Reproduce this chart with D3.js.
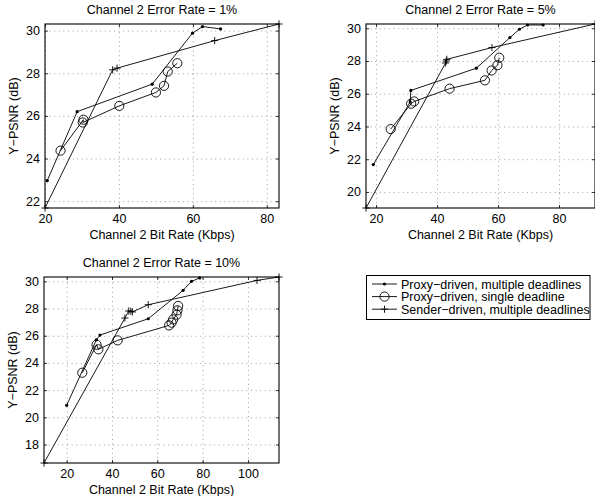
<!DOCTYPE html>
<html>
<head>
<meta charset="utf-8">
<script src="https://cdn.jsdelivr.net/npm/d3@7"></script>
<style>
  body { margin: 0; background: #fff; }
  svg { display: block; font-family: "Liberation Sans", Arial, Helvetica, sans-serif; }
  .grid line { stroke: #000; stroke-opacity: 0.55; stroke-width: 0.7; stroke-dasharray: 1,3.6; }
  .grid .domain { display: none; }
</style>
</head>
<body>
<svg id="chart" width="595" height="496"></svg>
<script>
// [bit rate (Kbps), Y-PSNR (dB)]
// channel 2 error rate = 1%
let proxyMulti1 = [[20.6, 22.96], [28.7, 26.2], [49.0, 27.49], [59.9, 29.88], [62.6, 30.19], [67.5, 30.08]];
let proxySingle1 = [[24.2, 24.37], [30.4, 25.82], [30.2, 25.69], [40.1, 26.47], [50.0, 27.1], [52.2, 27.41], [53.2, 28.08], [55.8, 28.47]];
let senderMulti1 = [[20.0, 21.68], [38.3, 28.16], [39.5, 28.24], [65.9, 29.53], [83.3, 30.31]];
// 5%
let proxyMulti2 = [[19.1, 21.67], [31.2, 25.5], [31.4, 26.2], [52.9, 27.56], [63.9, 29.43], [67.0, 29.94], [69.7, 30.2], [74.8, 30.2]];
let proxySingle2 = [[24.8, 23.84], [31.5, 25.39], [32.5, 25.53], [44.1, 26.31], [55.7, 26.82], [57.9, 27.42], [59.8, 27.74], [60.4, 28.2]];
let senderMulti2 = [[16.7, 19.02], [42.8, 27.88], [43.0, 28.0], [43.2, 28.1], [58.0, 28.82], [91.8, 30.26]];
// 10%
let proxyMulti3 = [[20.0, 20.88], [33.1, 25.7], [34.7, 26.05], [56.0, 27.25], [71.4, 29.34], [75.1, 30.0], [78.7, 30.25]];
let proxySingle3 = [[26.9, 23.28], [33.2, 25.34], [34.0, 25.0], [42.5, 25.66], [65.2, 26.76], [66.3, 26.96], [67.0, 27.2], [68.5, 27.55], [68.9, 27.87], [69.2, 28.19]];
let senderMulti3 = [[10.0, 16.64], [45.7, 27.3], [47.4, 27.82], [48.3, 27.8], [49.0, 27.75], [56.0, 28.28], [104.0, 30.07], [113.7, 30.32]];

let titles = ['Channel 2 Error Rate = 1%', 'Channel 2 Error Rate = 5%', 'Channel 2 Error Rate = 10%'];
let xTicks1 = [20, 40, 60, 80], yTicks1 = [22, 24, 26, 28, 30];
let xTicks2 = [20, 40, 60, 80], yTicks2 = [20, 22, 24, 26, 28, 30];
let xTicks3 = [20, 40, 60, 80, 100], yTicks3 = [18, 20, 22, 24, 26, 28, 30];
let legendNames = ['Proxy\u2212driven, multiple deadlines', 'Proxy\u2212driven, single deadline', 'Sender\u2212driven, multiple deadlines'];
let markerKinds = ['dot', 'circle', 'plus'];

var svg = d3.select('#chart');
var fontSize = '12.5px';

function drawMarker(g, kind, cx, cy) {
    if (kind == 'dot') {
        g.append('circle').attr('cx', cx).attr('cy', cy).attr('r', 1.6).attr('fill', '#000');
    } else if (kind == 'circle') {
        g.append('circle').attr('cx', cx).attr('cy', cy).attr('r', 4.6)
            .attr('fill', 'none').attr('stroke', '#000').attr('stroke-width', 0.9);
    } else {
        g.append('path').attr('d', 'M' + (cx - 3.6) + ',' + cy + 'H' + (cx + 3.6) + 'M' + cx + ',' + (cy - 3.6) + 'V' + (cy + 3.6))
            .attr('stroke', '#000').attr('stroke-width', 0.9);
    }
}

function drawPanel(box, title, xTicks, yTicks, series) {
    var all = [].concat.apply([], series);
    var x = d3.scaleLinear().domain(d3.extent(all, d => d[0])).range([box.left, box.right]);
    var y = d3.scaleLinear().domain(d3.extent(all, d => d[1])).range([box.bottom, box.top]);
    var w = box.right - box.left, h = box.bottom - box.top;
    var g = svg.append('g');

    // dotted grid
    g.append('g').attr('class', 'grid').attr('transform', 'translate(0,' + box.bottom + ')')
        .call(d3.axisBottom(x).tickValues(xTicks).tickSize(-h).tickFormat(''));
    g.append('g').attr('class', 'grid').attr('transform', 'translate(' + box.left + ',0)')
        .call(d3.axisLeft(y).tickValues(yTicks).tickSize(-w).tickFormat(''));

    // inner ticks on all four sides
    [[d3.axisBottom(x), 'translate(0,' + box.bottom + ')', xTicks], [d3.axisTop(x), 'translate(0,' + box.top + ')', xTicks],
     [d3.axisLeft(y), 'translate(' + box.left + ',0)', yTicks], [d3.axisRight(y), 'translate(' + box.right + ',0)', yTicks]]
        .forEach(function(a) {
            var ax = g.append('g').attr('transform', a[1]).call(a[0].tickValues(a[2]).tickSize(-3).tickFormat(''));
            ax.select('.domain').remove();
            ax.selectAll('.tick line').attr('stroke', '#000').attr('stroke-width', 0.8);
        });

    // tick labels
    var xa = g.append('g').attr('transform', 'translate(0,' + box.bottom + ')')
        .call(d3.axisBottom(x).tickValues(xTicks).tickSize(0).tickPadding(6));
    var ya = g.append('g').attr('transform', 'translate(' + box.left + ',0)')
        .call(d3.axisLeft(y).tickValues(yTicks).tickSize(0).tickPadding(5));
    [xa, ya].forEach(function(a) {
        a.select('.domain').remove();
        a.attr('font-size', fontSize).attr('font-family', null);
        a.selectAll('text').attr('fill', '#000');
    });

    g.append('rect').attr('x', box.left).attr('y', box.top).attr('width', w).attr('height', h)
        .attr('fill', 'none').attr('stroke', '#000').attr('stroke-width', 1.1);

    var line = d3.line().x(d => x(d[0])).y(d => y(d[1]));
    series.forEach(function(s, i) {
        g.append('path').datum(s).attr('d', line).attr('fill', 'none').attr('stroke', '#000').attr('stroke-width', 0.9);
        s.forEach(function(d) { drawMarker(g, markerKinds[i], x(d[0]), y(d[1])); });
    });

    g.append('text').attr('x', (box.left + box.right) / 2).attr('y', box.top - 10)
        .attr('text-anchor', 'middle').attr('font-size', fontSize).text(title);
    g.append('text').attr('x', (box.left + box.right) / 2).attr('y', box.bottom + 31)
        .attr('text-anchor', 'middle').attr('font-size', fontSize).text('Channel 2 Bit Rate (Kbps)');
    g.append('text').attr('transform', 'translate(' + (box.left - 27) + ',' + (box.top + box.bottom) / 2 + ') rotate(-90)')
        .attr('text-anchor', 'middle').attr('font-size', fontSize).text('Y\u2212PSNR (dB)');
}

drawPanel({left: 45, right: 279, top: 24, bottom: 208}, titles[0], xTicks1, yTicks1, [proxyMulti1, proxySingle1, senderMulti1]);
drawPanel({left: 366, right: 595, top: 24, bottom: 208}, titles[1], xTicks2, yTicks2, [proxyMulti2, proxySingle2, senderMulti2]);
drawPanel({left: 44, right: 279, top: 277, bottom: 463}, titles[2], xTicks3, yTicks3, [proxyMulti3, proxySingle3, senderMulti3]);

// legend
var lg = svg.append('g');
lg.append('rect').attr('x', 366.5).attr('y', 275.5).attr('width', 223.5).attr('height', 44)
    .attr('fill', '#fff').attr('stroke', '#000').attr('stroke-width', 1);
legendNames.forEach(function(name, i) {
    var cy = 284 + i * 12.6;
    lg.append('line').attr('x1', 372).attr('x2', 397).attr('y1', cy).attr('y2', cy).attr('stroke', '#000').attr('stroke-width', 0.9);
    drawMarker(lg, markerKinds[i], 384.5, cy);
    lg.append('text').attr('x', 401).attr('y', cy + 4.5).attr('font-size', fontSize).text(name);
});
</script>
</body>
</html>
